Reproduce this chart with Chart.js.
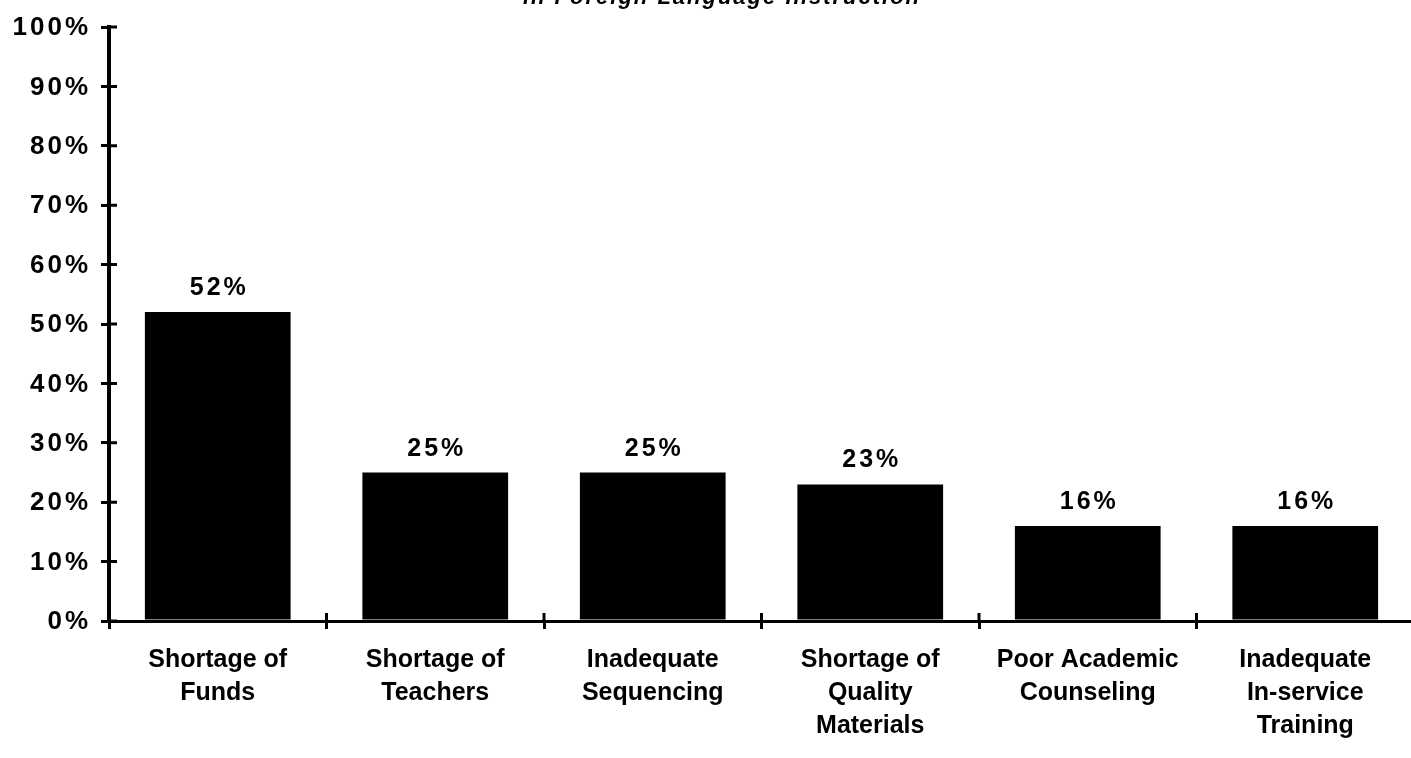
<!DOCTYPE html>
<html>
<head>
<meta charset="utf-8">
<script src="https://cdn.jsdelivr.net/npm/chart.js@4.4.1/dist/chart.umd.min.js"></script>
<style>
    html, body { margin: 0; padding: 0; background: #fff; overflow: hidden; }
    #wrap { width: 1420px; height: 758px; }
</style>
</head>
<body>
<div id="wrap"><canvas id="problemsChart" width="1420" height="758"></canvas></div>
<script>
var titleLine = 'in Foreign Language Instruction';

var categories = [
    ['Shortage of', 'Funds'],
    ['Shortage of', 'Teachers'],
    ['Inadequate', 'Sequencing'],
    ['Shortage of', 'Quality', 'Materials'],
    ['Poor Academic', 'Counseling'],
    ['Inadequate', 'In-service', 'Training']
];

var percentCited = [52, 25, 25, 23, 16, 16];

var yTickLabels = ['0%', '10%', '20%', '30%', '40%', '50%', '60%', '70%', '80%', '90%', '100%'];

// tick marks that cross both axes, and the spaced-out percent labels on the left
var axisDecor = {
    id: 'axisDecor',
    afterDraw: function(chart) {
        var ctx = chart.ctx;
        var area = chart.chartArea;
        var x = chart.scales.x;
        var y = chart.scales.y;
        ctx.save();
        ctx.strokeStyle = '#000';
        ctx.lineWidth = 3;
        ctx.beginPath();
        y.ticks.forEach(function(t) {
            var py = y.getPixelForValue(t.value);
            ctx.moveTo(area.left, py);
            ctx.lineTo(area.left + 8, py);
        });
        for (var i = 1; i < categories.length; i++) {
            var px = (x.getPixelForValue(i - 1) + x.getPixelForValue(i)) / 2;
            ctx.moveTo(px, area.bottom - 8);
            ctx.lineTo(px, area.bottom);
        }
        ctx.stroke();

        ctx.fillStyle = '#000';
        ctx.textAlign = 'right';
        ctx.textBaseline = 'middle';
        ctx.letterSpacing = '3px';
        ctx.font = 'bold 26px "Liberation Sans", Arial, sans-serif';
        y.ticks.forEach(function(t, i) {
            ctx.fillText(yTickLabels[i], area.left - 18, y.getPixelForValue(t.value) + 1);
        });
        ctx.restore();
    }
};

// value printed above each bar, plus the clipped heading line
var barLabels = {
    id: 'barLabels',
    afterDatasetsDraw: function(chart) {
        var ctx = chart.ctx;
        var meta = chart.getDatasetMeta(0);
        ctx.save();
        ctx.fillStyle = '#000';
        ctx.textAlign = 'center';
        ctx.textBaseline = 'alphabetic';
        ctx.letterSpacing = '3px';
        ctx.font = 'bold 25px "Liberation Sans", Arial, sans-serif';
        meta.data.forEach(function(bar, i) {
            ctx.fillText(percentCited[i] + '%', bar.x + 1.5, bar.y - 17);
        });
        ctx.font = 'italic bold 22px "Liberation Sans", Arial, sans-serif';
        ctx.letterSpacing = '2px';
        ctx.fillText(titleLine, 722, 4);
        ctx.restore();
    }
};

var ctx = document.getElementById('problemsChart').getContext('2d');
var chart = new Chart(ctx, {
    type: 'bar',
    data: {
        labels: categories,
        datasets: [{
            data: percentCited,
            backgroundColor: '#000',
            borderWidth: 0,
            categoryPercentage: 1,
            barPercentage: 0.67
        }]
    },
    options: {
        responsive: false,
        animation: false,
        layout: { padding: { top: 27, right: 6, left: 0, bottom: 0 } },
        plugins: {
            legend: { display: false },
            tooltip: { enabled: false },
            title: { display: false }
        },
        scales: {
            x: {
                afterFit: function(scale) { scale.height = 137; },
                border: { display: true, color: '#000', width: 3 },
                grid: {
                    display: true,
                    drawOnChartArea: false,
                    drawTicks: true,
                    tickLength: 8,
                    color: '#000',
                    lineWidth: 3
                },
                ticks: {
                    color: '#000',
                    padding: 15,
                    maxRotation: 0,
                    autoSkip: false,
                    font: { family: '"Liberation Sans", Arial, sans-serif', weight: 'bold', size: 25, lineHeight: 1.32 }
                }
            },
            y: {
                min: 0,
                max: 100,
                afterFit: function(scale) { scale.width = 109; },
                border: { display: true, color: '#000', width: 4 },
                grid: {
                    display: true,
                    drawOnChartArea: false,
                    drawTicks: true,
                    tickLength: 8,
                    color: '#000',
                    lineWidth: 3
                },
                ticks: {
                    stepSize: 10,
                    display: false
                }
            }
        }
    },
    plugins: [axisDecor, barLabels]
});
</script>
</body>
</html>
